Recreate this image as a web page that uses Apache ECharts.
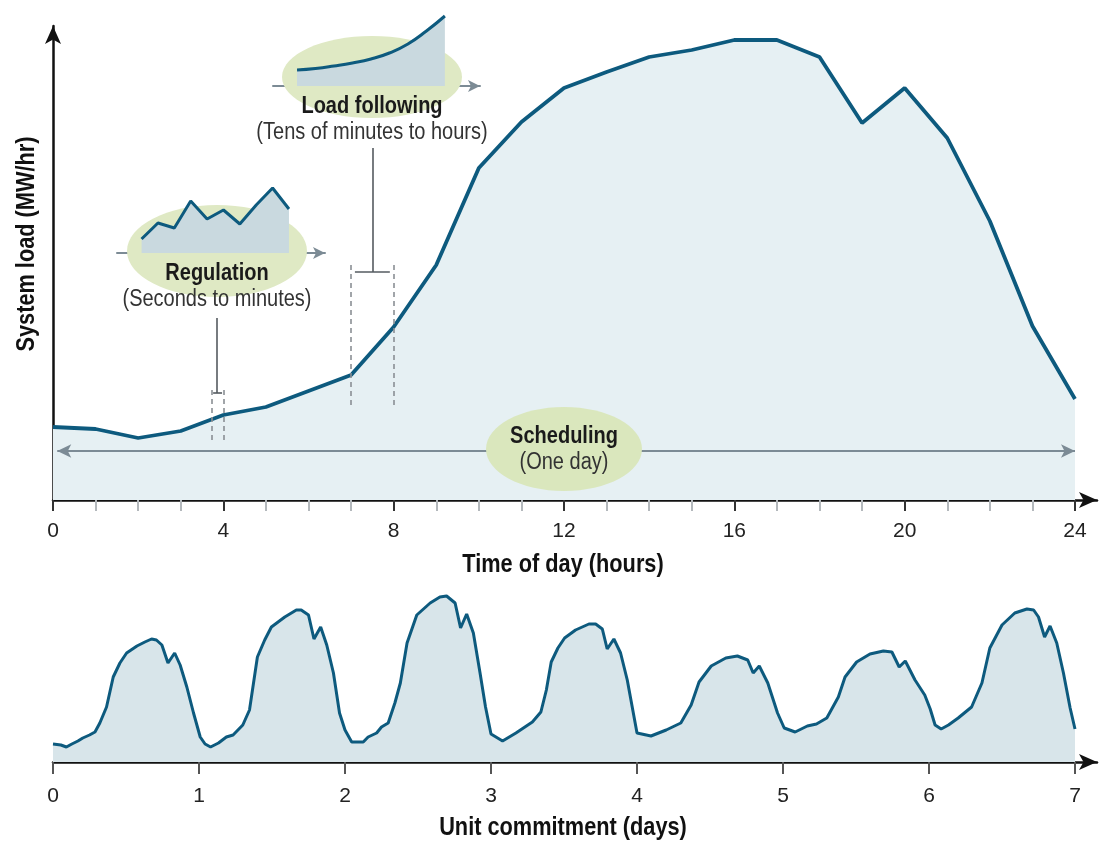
<!DOCTYPE html>
<html>
<head>
<meta charset="utf-8">
<script src="https://cdn.jsdelivr.net/npm/echarts@6.0.0/dist/echarts.min.js"></script>
<style>
  html, body { margin: 0; padding: 0; background: #fff; }
  #chart { width: 1107px; height: 842px; }
</style>
</head>
<body>
<div id="chart"></div>
<script>
// one day, hourly load (height above the axis, arbitrary units)
var dayHours = [0,1,2,3,4,5,6,7,8,9,10,11,12,13,14,15,16,17,18,19,20,21,22,23,24];
var dayLoad = [73,71,62,69,85,93,109,125,173,235,332,378,412,428,443,450,460,460,443,377,412,362,279,174,101];
var dayMajorTicks = [0,4,8,12,16,20,24];
var dayMinorTicks = [1,2,3,5,6,7,9,10,11,13,14,15,17,18,19,21,22,23];

// one week (hour of week, load)
var weekHours = [0,1.3,2.2,3.1,4.1,4.9,6,6.9,7.7,8.8,9.9,11,12.1,13.8,15.1,16.2,17,17.9,18.9,20,20.9,22,23.1,24.2,
  25,25.9,27.2,28.5,29.6,31.2,32.3,33.6,34.8,35.9,38.1,40,40.8,42,42.9,44,45,46.1,47.1,48,
  49.1,51,51.8,53.2,54,55.1,56.2,57.1,58.2,59.8,62,63.6,64.7,66.1,67,68,69.1,70.2,71.1,72,
  73.9,76.1,78.8,80.2,81.1,81.9,83,84.1,85.9,88.1,89.2,90.3,91.1,92.2,93.3,94.4,96,
  98.3,100.8,103.2,104.9,106.2,108.2,110.6,112.5,114.2,115.1,116.1,117.5,119.1,120.2,
  122,124,125.5,127.2,129.1,130.2,132.1,134.3,136.5,137.9,139.1,140.1,141.7,143.3,144.2,145,146,147.2,148.8,
  151,152.7,154,156,158.1,160.1,161.2,162,163,163.9,165,166.1,167.2,168];
var weekLoad = [18,17,15,18,21,24,27,30,39,55,85,99,109,116,120,123,122,117,99,109,97,75,49,25,
  18,15,19,25,27,37,52,105,122,135,145,152,152,147,123,135,117,89,49,32,
  20,20,25,29,35,39,59,79,119,147,159,165,166,159,134,148,129,89,55,28,
  21,29,40,50,72,100,114,124,132,138,138,133,113,123,109,82,29,
  26,32,39,57,80,96,104,106,102,89,96,79,49,34,
  30,36,38,44,65,85,100,108,111,110,95,101,82,67,53,37,33,37,44,55,79,114,137,149,153,152,145,125,136,119,89,54,33];
var weekTicks = [0,1,2,3,4,5,6,7];

// small inset curves
var regulationLoad = [14,30,25,52,34,43,29,48,65,44];
var followingLoad = [16,17.5,20,23,27,33,42,55,70];

// annotation positions (hours, load)
var regulationWindow = [3.73, 4.02];
var regulationSpan = [60, 114];
var regulationLeader = { x: 3.85, from: 182, to: 107, bar: [3.76, 3.97] };
var followingWindow = [7, 8];
var followingSpan = [95, 235];
var followingLeader = { x: 7.52, from: 352, to: 228, bar: [7.09, 7.91] };
var schedulingLevel = 49;

var FONT = "'Liberation Sans',Arial,sans-serif";
var LINE = '#0d5a7e';
var ARROW = '#7c8b95';
var NARROW = 0.87;

var chart = echarts.init(document.getElementById('chart'));

function vline(x, y1, y2, style) {
  return [{ coord: [x, y1], symbol: 'none', lineStyle: style }, { coord: [x, y2], symbol: 'none' }];
}
function hline(x1, x2, y, style) {
  return [{ coord: [x1, y], symbol: 'none', lineStyle: style }, { coord: [x2, y], symbol: 'none' }];
}
function label(text, x, y, font, fill, rotation) {
  return {
    type: 'text', z: 11, silent: true, x: x, y: y, scaleX: NARROW, rotation: rotation || 0,
    style: { text: text, font: font + ' ' + FONT, fill: fill, align: 'center', verticalAlign: 'middle' }
  };
}
var dashed = { color: '#8a8f94', width: 1.6, type: [5, 4] };
var leader = { color: '#555b60', width: 1.6, type: 'solid' };

var hidden = { show: false };

var option = {
  animation: false,
  backgroundColor: '#fff',
  grid: [
    { left: 53, top: 26, width: 1044, height: 474 },
    { left: 53, top: 582, width: 1044, height: 180 },
    { left: 117, top: 183, width: 208, height: 70 },
    { left: 273, top: 11, width: 207, height: 75 }
  ],
  xAxis: [
    {
      gridIndex: 0, type: 'value', position: 'bottom', min: 0, max: 24 * 1044 / 1022,
      axisLine: { show: true, symbol: ['none', 'arrow'], symbolSize: [12, 18], lineStyle: { color: '#111', width: 2.5 } },
      axisTick: { show: true, customValues: dayMajorTicks, length: 11, lineStyle: { color: '#333', width: 2 } },
      axisLabel: { show: true, customValues: dayMajorTicks, margin: 21, fontSize: 21, color: '#222', fontFamily: FONT },
      splitLine: hidden
    },
    {
      gridIndex: 0, type: 'value', position: 'bottom', min: 0, max: 24 * 1044 / 1022,
      axisLine: hidden,
      axisTick: { show: true, customValues: dayMinorTicks, length: 11, lineStyle: { color: '#b3b8bc', width: 2 } },
      axisLabel: hidden, splitLine: hidden
    },
    {
      gridIndex: 1, type: 'value', position: 'bottom', min: 0, max: 7 * 1044 / 1022,
      axisLine: { show: true, symbol: ['none', 'arrow'], symbolSize: [12, 18], lineStyle: { color: '#111', width: 2.5 } },
      axisTick: { show: true, customValues: weekTicks, length: 12, lineStyle: { color: '#555', width: 2 } },
      axisLabel: { show: true, customValues: weekTicks, margin: 24, fontSize: 21, color: '#222', fontFamily: FONT },
      splitLine: hidden
    },
    {
      gridIndex: 2, type: 'value', min: -1.5, max: 11.2,
      axisLine: { show: true, onZero: false, symbol: ['none', 'arrow'], symbolSize: [9, 12], lineStyle: { color: ARROW, width: 2 } },
      axisTick: hidden, axisLabel: hidden, splitLine: hidden
    },
    {
      gridIndex: 3, type: 'value', min: -1.3, max: 9.9,
      axisLine: { show: true, onZero: false, symbol: ['none', 'arrow'], symbolSize: [9, 12], lineStyle: { color: ARROW, width: 2 } },
      axisTick: hidden, axisLabel: hidden, splitLine: hidden
    }
  ],
  yAxis: [
    {
      gridIndex: 0, type: 'value', min: 0, max: 474,
      axisLine: { show: true, symbol: ['none', 'arrow'], symbolSize: [12, 18], lineStyle: { color: '#111', width: 2.5 } },
      axisTick: hidden, axisLabel: hidden, splitLine: hidden
    },
    { gridIndex: 1, type: 'value', min: 0, max: 180, show: false },
    { gridIndex: 2, type: 'value', min: 0, max: 70, show: false },
    { gridIndex: 3, type: 'value', min: 0, max: 75, show: false }
  ],
  series: [
    {
      type: 'line', xAxisIndex: 0, yAxisIndex: 0, silent: true,
      data: dayHours.map(function (h, i) { return [h, dayLoad[i]]; }),
      symbol: 'none',
      lineStyle: { color: LINE, width: 3.8 },
      areaStyle: { color: '#e6f0f3', opacity: 1 },
      markLine: {
        silent: true, animation: false,
        label: { show: false },
        emphasis: { disabled: true },
        data: [
          vline(regulationWindow[0], regulationSpan[0], regulationSpan[1], dashed),
          vline(regulationWindow[1], regulationSpan[0], regulationSpan[1], dashed),
          vline(regulationLeader.x, regulationLeader.from, regulationLeader.to, leader),
          hline(regulationLeader.bar[0], regulationLeader.bar[1], regulationLeader.to, leader),
          vline(followingWindow[0], followingSpan[0], followingSpan[1], dashed),
          vline(followingWindow[1], followingSpan[0], followingSpan[1], dashed),
          vline(followingLeader.x, followingLeader.from, followingLeader.to, leader),
          hline(followingLeader.bar[0], followingLeader.bar[1], followingLeader.to, leader),
          [
            { coord: [0.1, schedulingLevel], symbol: 'arrow', symbolSize: [10, 14], lineStyle: { color: ARROW, width: 2, type: 'solid' } },
            { coord: [24, schedulingLevel], symbol: 'arrow', symbolSize: [10, 14] }
          ]
        ]
      }
    },
    {
      type: 'line', xAxisIndex: 2, yAxisIndex: 1, silent: true,
      data: weekHours.map(function (h, i) { return [h / 24, weekLoad[i]]; }),
      symbol: 'none',
      lineStyle: { color: LINE, width: 3 },
      areaStyle: { color: '#d8e5ea', opacity: 1 }
    },
    {
      type: 'line', xAxisIndex: 3, yAxisIndex: 2, silent: true, z: 3,
      data: regulationLoad.map(function (v, i) { return [i, v]; }),
      symbol: 'none',
      lineStyle: { color: LINE, width: 3 },
      areaStyle: { color: '#c9d9df', opacity: 1 }
    },
    {
      type: 'line', xAxisIndex: 4, yAxisIndex: 3, silent: true, z: 3, smooth: true,
      data: followingLoad.map(function (v, i) { return [i, v]; }),
      symbol: 'none',
      lineStyle: { color: LINE, width: 3 },
      areaStyle: { color: '#c9d9df', opacity: 1 }
    }
  ],
  graphic: [
    { type: 'ellipse', z: 1, silent: true, shape: { cx: 217, cy: 251, rx: 90, ry: 46 }, style: { fill: '#dfe9c4' } },
    { type: 'ellipse', z: 1, silent: true, shape: { cx: 372, cy: 77, rx: 90, ry: 41 }, style: { fill: '#dfe9c4' } },
    { type: 'ellipse', z: 10, silent: true, shape: { cx: 564, cy: 449, rx: 78, ry: 42 }, style: { fill: '#dae7bd' } },
    label('Regulation', 217, 274, 'bold 23px', '#1a1a1a'),
    label('(Seconds to minutes)', 217, 300, '23px', '#333'),
    label('Load following', 372, 107, 'bold 23px', '#1a1a1a'),
    label('(Tens of minutes to hours)', 372, 133, '23px', '#333'),
    label('Scheduling', 564, 437, 'bold 23px', '#1a1a1a'),
    label('(One day)', 564, 463, '23px', '#333'),
    label('Time of day (hours)', 563, 565, 'bold 25px', '#111'),
    label('Unit commitment (days)', 563, 828, 'bold 25px', '#111'),
    label('System load (MW/hr)', 27, 244, 'bold 25px', '#111', Math.PI / 2)
  ]
};

chart.setOption(option);
</script>
</body>
</html>
